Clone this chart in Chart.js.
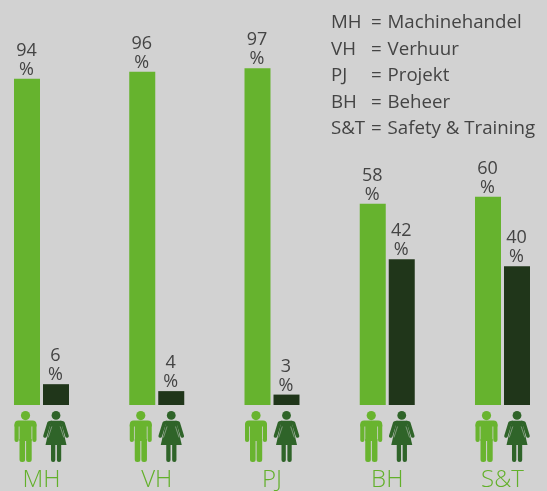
<!DOCTYPE html>
<html>
<head>
<meta charset="utf-8">
<title>MH VH PJ BH S&amp;T</title>
<script src="https://cdn.jsdelivr.net/npm/chart.js@4/dist/chart.umd.min.js"></script>
<style>
  html, body { margin: 0; padding: 0; background: #d2d2d2; }
  canvas { display: block; }
</style>
</head>
<body>
<canvas id="myChart" width="547" height="491"></canvas>
<script>
const categories = ['MH', 'VH', 'PJ', 'BH', 'S&T'];
const maleValues = [94, 96, 97, 58, 60];
const femaleValues = [6, 4, 3, 42, 40];
const legendCodes = ['MH', 'VH', 'PJ', 'BH', 'S&T'];
const legendNames = ['Machinehandel', 'Verhuur', 'Projekt', 'Beheer', 'Safety & Training'];

const green = '#66b32e';
const darkGreen = '#20361a';
const maleIcon = '#69b42f';
const femaleIcon = '#2f6429';
const textColor = '#444444';
const fontName = '"Open Sans", sans-serif';

function drawMale(ctx, cx, top) {
  ctx.save();
  ctx.translate(cx, top);
  ctx.fillStyle = maleIcon;
  ctx.beginPath();
  ctx.arc(0, 4.6, 4.6, 0, Math.PI * 2);
  ctx.fill();
  // shoulders and torso
  ctx.beginPath();
  ctx.roundRect(-11, 9.5, 22, 6, [4, 4, 0, 0]);
  ctx.rect(-6, 12, 12, 18);
  ctx.fill();
  // arms
  ctx.beginPath();
  ctx.roundRect(-11, 12, 4.2, 19, 2);
  ctx.roundRect(6.8, 12, 4.2, 19, 2);
  ctx.fill();
  // legs
  ctx.beginPath();
  ctx.roundRect(-6, 28, 5.6, 23, [0, 0, 2.5, 2.5]);
  ctx.roundRect(0.6, 28, 5.6, 23, [0, 0, 2.5, 2.5]);
  ctx.fill();
  ctx.restore();
}

function drawFemale(ctx, cx, top) {
  ctx.save();
  ctx.translate(cx, top);
  ctx.fillStyle = femaleIcon;
  ctx.beginPath();
  ctx.arc(0, 4.4, 4.4, 0, Math.PI * 2);
  ctx.fill();
  // dress
  ctx.beginPath();
  ctx.moveTo(-5, 9.8);
  ctx.lineTo(5, 9.8);
  ctx.lineTo(10.5, 34);
  ctx.lineTo(-10.5, 34);
  ctx.closePath();
  ctx.fill();
  // arms
  ctx.strokeStyle = femaleIcon;
  ctx.lineWidth = 3.6;
  ctx.lineCap = 'round';
  ctx.lineJoin = 'round';
  ctx.beginPath();
  ctx.moveTo(-5, 11.6);
  ctx.lineTo(-7, 12);
  ctx.lineTo(-11, 25);
  ctx.moveTo(5, 11.6);
  ctx.lineTo(7, 12);
  ctx.lineTo(11, 25);
  ctx.stroke();
  // gap between arm and dress
  ctx.strokeStyle = 'rgba(210, 210, 210, 0.6)';
  ctx.lineWidth = 0.8;
  ctx.lineCap = 'butt';
  ctx.beginPath();
  ctx.moveTo(-4.2, 15.5);
  ctx.lineTo(-7.8, 26.5);
  ctx.moveTo(4.2, 15.5);
  ctx.lineTo(7.8, 26.5);
  ctx.stroke();
  // legs
  ctx.beginPath();
  ctx.roundRect(-5, 33, 4.3, 18, [0, 0, 2, 2]);
  ctx.roundRect(0.9, 33, 4.3, 18, [0, 0, 2, 2]);
  ctx.fill();
  ctx.restore();
}

const overlayPlugin = {
  id: 'overlay',
  afterDraw(chart) {
    const ctx = chart.ctx;
    const baseY = chart.scales.y.getPixelForValue(0);
    ctx.save();
    ctx.font = '18px ' + fontName;
    ctx.fillStyle = textColor;
    ctx.textAlign = 'center';
    ctx.textBaseline = 'alphabetic';
    chart.data.datasets.forEach((ds, d) => {
      chart.getDatasetMeta(d).data.forEach((bar, i) => {
        ctx.fillText(String(ds.data[i]), bar.x - 0.5, bar.y - 23);
        ctx.fillText('%', bar.x - 0.5, bar.y - 4);
        if (d === 0) drawMale(ctx, bar.x - 1.5, baseY + 6);
        else drawFemale(ctx, bar.x, baseY + 6);
      });
    });
    // legend key
    ctx.font = '18.7px ' + fontName;
    ctx.textAlign = 'left';
    legendCodes.forEach((code, i) => {
      const y = 28 + i * 26.6;
      ctx.fillText(code, 331, y);
      ctx.fillText('=', 371, y);
      ctx.fillText(legendNames[i], 387.5, y);
    });
    ctx.restore();
  }
};

new Chart(document.getElementById('myChart').getContext('2d'), {
  type: 'bar',
  data: {
    labels: categories,
    datasets: [
      { label: 'Mannen', data: maleValues, backgroundColor: green, clip: false },
      { label: 'Vrouwen', data: femaleValues, backgroundColor: darkGreen, clip: false }
    ]
  },
  options: {
    responsive: false,
    animation: false,
    categoryPercentage: 0.5033,
    barPercentage: 0.8966,
    layout: { padding: { left: 41.5, right: 44.5, top: 0, bottom: 0 } },
    plugins: { legend: { display: false }, title: { display: false }, tooltip: { enabled: false } },
    scales: {
      x: {
        offset: false,
        grid: { display: false },
        border: { display: false },
        afterFit(axis) {
          axis.height = 86;
          axis.paddingLeft = 0;
          axis.paddingRight = 0;
        },
        ticks: {
          autoSkip: false,
          maxRotation: 0,
          padding: 53,
          color: '#62b02a',
          font: { family: fontName, size: 24, weight: '300' }
        }
      },
      y: { display: false, min: 0, max: 116.7 }
    }
  },
  plugins: [overlayPlugin]
});
</script>
</body>
</html>
